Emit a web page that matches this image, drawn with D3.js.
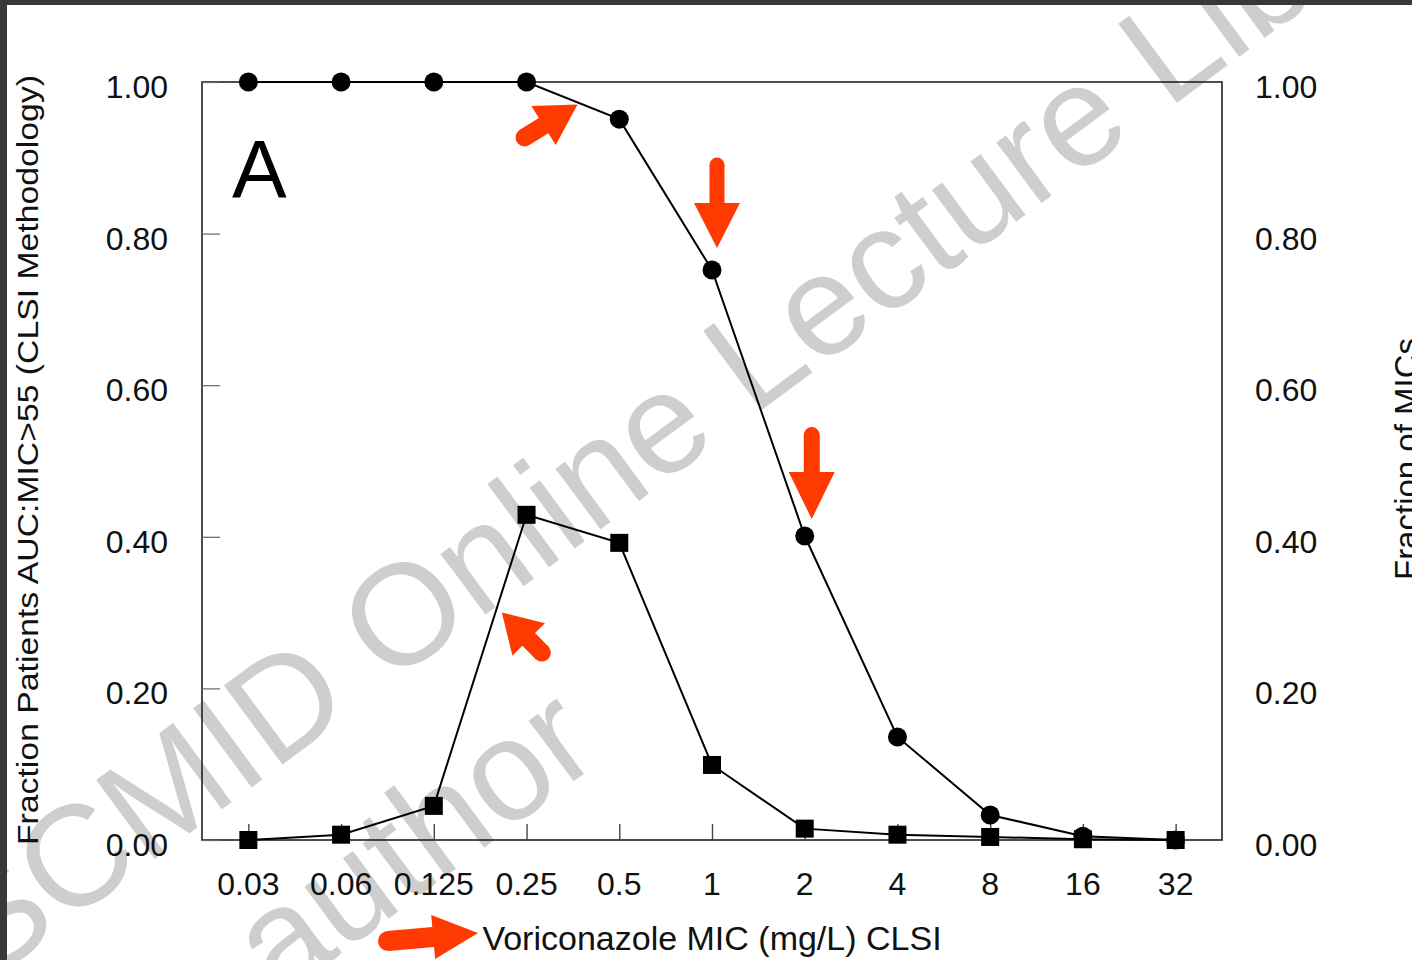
<!DOCTYPE html>
<html><head><meta charset="utf-8">
<script src="https://cdn.jsdelivr.net/npm/d3@7"></script>
<style>
html,body{margin:0;padding:0;background:#fff;}
svg{display:block;}
text{font-family:"Liberation Sans",Arial,Helvetica,sans-serif;fill:#111;}
</style></head>
<body>
<script>
// ---- data ----
const micCategories = ["0.03","0.06","0.125","0.25","0.5","1","2","4","8","16","32"];
const fractionPatients = [1.00,1.00,1.00,1.00,0.951,0.752,0.401,0.136,0.033,0.005,0.000];
const fractionMICs     = [0.000,0.007,0.045,0.429,0.392,0.099,0.015,0.007,0.004,0.001,0.000];
const yTickValues = [0,0.2,0.4,0.6,0.8,1.0];
const yTickLabels = ["0.00","0.20","0.40","0.60","0.80","1.00"];
const xTitle = "Voriconazole MIC (mg/L) CLSI";
const yLeftTitle = "Fraction Patients AUC:MIC>55 (CLSI Methodology)";
const yRightTitle = "Fraction of MICs";
const panelLabel = "A";

(function () {
const W = 1412, H = 960;
const svg = d3.select("body").append("svg").attr("width", W).attr("height", H);
svg.append("rect").attr("width", W).attr("height", H).attr("fill", "#fff");

const pl = 202, pr = 1222, pt = 82, pb = 840;
const x = d3.scalePoint().domain(micCategories).range([pl, pr]).padding(0.5);
const y = d3.scaleLinear().domain([0, 1]).range([pb, pt]);

// watermark
const wm = svg.append("g").attr("opacity", 0.85);
wm.append("text").attr("transform", "translate(-91,1041) rotate(-36.5)")
  .style("font-size", "143px").style("fill", "#c6c6c6").text("ESCMID Online Lecture Library");
wm.append("text").attr("transform", "translate(8,1200) rotate(-36.5)")
  .style("font-size", "143px").style("fill", "#c6c6c6").text("\u00a9 by author");

// frame
svg.append("rect").attr("x", pl).attr("y", pt).attr("width", pr - pl).attr("height", pb - pt)
  .attr("fill", "none").attr("stroke", "#222").attr("stroke-width", 1.6);

// axes with inward ticks
const xAxis = d3.axisBottom(x).tickSize(-16).tickFormat("");
svg.append("g").attr("transform", `translate(0,${pb})`).call(xAxis)
  .call(g => { g.select(".domain").remove(); g.selectAll("line").attr("stroke", "#444").attr("stroke-width", 1.4); });
const yAxisL = d3.axisLeft(y).tickValues(yTickValues).tickSize(-18).tickFormat("");
svg.append("g").attr("transform", `translate(${pl},0)`).call(yAxisL)
  .call(g => { g.select(".domain").remove(); g.selectAll("line").attr("stroke", "#666").attr("stroke-width", 1.2); });

// tick labels
svg.append("g").selectAll("text").data(micCategories).join("text")
  .attr("x", d => x(d)).attr("y", pb + 55).attr("text-anchor", "middle")
  .style("font-size", "32px").text(d => d);
svg.append("g").selectAll("text").data(yTickValues).join("text")
  .attr("x", 168).attr("y", d => y(d) + 16).attr("text-anchor", "end")
  .style("font-size", "32px").text((d, i) => yTickLabels[i]);
svg.append("g").selectAll("text").data(yTickValues).join("text")
  .attr("x", 1255).attr("y", d => y(d) + 16).attr("text-anchor", "start")
  .style("font-size", "32px").text((d, i) => yTickLabels[i]);

// titles
svg.append("text").attr("x", (pl + pr) / 2).attr("y", 950).attr("text-anchor", "middle")
  .style("font-size", "34px").text(xTitle);
svg.append("text").attr("transform", "translate(38,460) rotate(-90)").attr("text-anchor", "middle")
  .attr("textLength", 770).attr("lengthAdjust", "spacingAndGlyphs")
  .style("font-size", "30px").text(yLeftTitle);
svg.append("text").attr("transform", "translate(1418,459) rotate(-90)").attr("text-anchor", "middle")
  .style("font-size", "33px").text(yRightTitle);
svg.append("text").attr("x", 232).attr("y", 197).style("font-size", "82px").style("fill", "#000").text(panelLabel);

// lines
const line = d3.line().x((d, i) => x(micCategories[i])).y(d => y(d));
svg.append("path").datum(fractionPatients).attr("d", line).attr("fill", "none").attr("stroke", "#000").attr("stroke-width", 2);
svg.append("path").datum(fractionMICs).attr("d", line).attr("fill", "none").attr("stroke", "#000").attr("stroke-width", 2);

svg.append("g").selectAll("circle").data(fractionPatients).join("circle")
  .attr("cx", (d, i) => x(micCategories[i])).attr("cy", d => y(d)).attr("r", 9.5).attr("fill", "#000");
const s = 18;
svg.append("g").selectAll("rect").data(fractionMICs).join("rect")
  .attr("x", (d, i) => x(micCategories[i]) - s / 2).attr("y", d => y(d) - s / 2)
  .attr("width", s).attr("height", s).attr("fill", "#000");

// red arrows (annotations, anchored to scale positions)
function arrow(tail, tip, shaftW, headLen, headW) {
  const dx = tip[0] - tail[0], dy = tip[1] - tail[1];
  const L = Math.hypot(dx, dy), ux = dx / L, uy = dy / L, px = -uy, py = ux;
  const hb = [tip[0] - ux * headLen, tip[1] - uy * headLen];
  const hs = shaftW / 2, hh = headW / 2;
  const p = [
    [tail[0] + px * hs, tail[1] + py * hs],
    [hb[0] + px * hs, hb[1] + py * hs],
    [hb[0] + px * hh, hb[1] + py * hh],
    tip,
    [hb[0] - px * hh, hb[1] - py * hh],
    [hb[0] - px * hs, hb[1] - py * hs],
    [tail[0] - px * hs, tail[1] - py * hs]
  ];
  const g = svg.append("g").attr("fill", "#ff3a00");
  g.append("path").attr("d", "M" + p.map(q => q.join(",")).join("L") + "Z");
  g.append("circle").attr("cx", tail[0]).attr("cy", tail[1]).attr("r", hs);
}
const mid = (a, b, t) => a + (b - a) * t;
const a1tip = [mid(x("0.25"), x("0.5"), 0.55), mid(y(fractionPatients[3]), y(fractionPatients[4]), 0.55) + 2];
arrow([a1tip[0] - 53, a1tip[1] + 33], a1tip, 18, 40, 46);
const a2tip = [x("1") + 5, y(fractionPatients[5]) - 22];
arrow([a2tip[0], a2tip[1] - 83], a2tip, 15, 45, 46);
const a3tip = [x("2") + 7, y(fractionPatients[6]) - 17];
arrow([a3tip[0], a3tip[1] - 84], a3tip, 16, 47, 46);
const a4tip = [x("0.125") + 68, y(0.30)];
arrow([a4tip[0] + 40, a4tip[1] + 40], a4tip, 18, 38, 46);
arrow([388, 941], [478, 933], 20, 45, 44);

// dark border of screenshot
svg.append("rect").attr("x", 0).attr("y", 0).attr("width", W).attr("height", 5).attr("fill", "#383838");
svg.append("rect").attr("x", 0).attr("y", 0).attr("width", 7).attr("height", H).attr("fill", "#383838");
})();
</script>
</body></html>
